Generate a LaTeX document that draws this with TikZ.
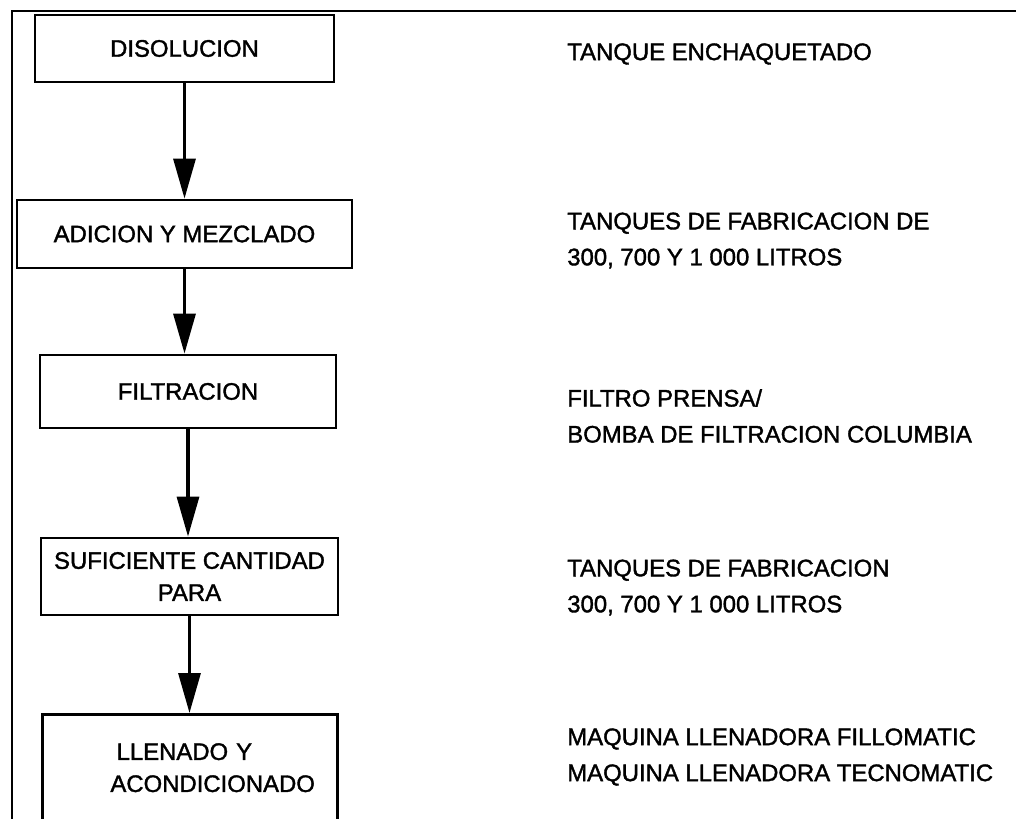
\documentclass[tikz,border=0pt]{standalone}
\usepackage{fontspec}
\setmainfont[FakeBold=1.5]{Liberation Sans}
\usetikzlibrary{positioning,arrows.meta}
\tikzset{
  stage/.style={draw, line width=0.7mm, font=\fontsize{17}{22.8}\selectfont,
    align=center, inner sep=2pt},
  note/.style={anchor=west, font=\fontsize{17}{25.6}\selectfont, align=left,
    inner sep=0pt},
  flow/.style={-{Triangle[length=10mm, width=5.5mm]}, line width=0.8mm},
  frame/.style={line width=0.6mm},
}

\begin{document}
\begin{tikzpicture}[x=0.25mm, y=-0.25mm]
  \useasboundingbox (0,0) rectangle (1016,818);
  \clip (0,0) rectangle (1016,818);
  \draw[frame] (1030,11) -| (12,830);
  % process steps
  \node[stage, minimum width=74.75mm, minimum height=16.75mm] (disol) at (184.5,48.5) {DISOLUCION};
  \node[stage, minimum width=83.75mm, minimum height=17mm] (adic) at (184.5,234) {ADICION Y MEZCLADO};
  \node[stage, minimum width=74mm, minimum height=18.25mm] (filtr) at (188,391.5) {FILTRACION};
  \node[stage, minimum width=74.25mm, minimum height=19.25mm] (sufic) at (189.5,576.5) {SUFICIENTE CANTIDAD\\PARA};
  \node[stage, anchor=north, text width=206pt, align=left, inner ysep=20.5pt, text depth=110pt]
    (llen) at (190,713) {\hspace*{50.8pt}LLENADO Y\\\hspace*{46.4pt}ACONDICIONADO};
  \draw[flow] (disol.south) -- (disol.south |- adic.north);
  \draw[flow] (adic.south) -- (adic.south |- filtr.north);
  \draw[flow] (filtr.south) -- (filtr.south |- sufic.north);
  \draw[flow] (sufic.south) -- (sufic.south |- llen.north);
  % equipment
  \node[note] (eq1) at (567,54) {TANQUE ENCHAQUETADO};
  \node[note] (eq2) at (567,240.5) {TANQUES DE FABRICACION DE\\300, 700 Y 1 000 LITROS};
  \node[note] (eq3) at (567,416) {FILTRO PRENSA/\\BOMBA DE FILTRACION COLUMBIA};
  \node[note] (eq4) at (567,587.5) {TANQUES DE FABRICACION\\300, 700 Y 1 000 LITROS};
  \node[note] (eq5) at (567,757) {MAQUINA LLENADORA FILLOMATIC\\MAQUINA LLENADORA TECNOMATIC};
\end{tikzpicture}
\end{document}
